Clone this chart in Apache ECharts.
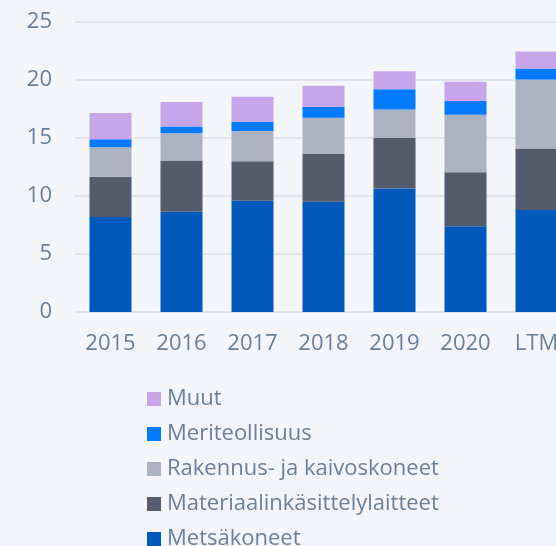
<!DOCTYPE html>
<html>
<head>
    <meta charset="utf-8">
    <title>ECharts</title>
    <script src="https://cdn.jsdelivr.net/npm/echarts@6/dist/echarts.min.js"></script>
</head>
<body style="margin:0;background:#f3f5fa;">
<style type="text/css">
.chart_box{width: 556px; height: 546px;}
</style>
    <div class="chart_box" id="liikevaihto"></div>
    <script type="text/javascript">
        // data
        var years = ['2015', '2016', '2017', '2018', '2019', '2020', 'LTM'];
        var metsakoneet = [8.2, 8.65, 9.6, 9.5, 10.65, 7.4, 8.8];
        var materiaali = [3.45, 4.4, 3.4, 4.15, 4.35, 4.65, 5.3];
        var rakennus = [2.55, 2.35, 2.6, 3.1, 2.45, 4.95, 5.95];
        var meri = [0.7, 0.6, 0.8, 0.95, 1.75, 1.2, 0.95];
        var muut = [2.25, 2.1, 2.15, 1.8, 1.55, 1.65, 1.45];
        var yTicks = [0, 5, 10, 15, 20, 25];

        var textColor = '#6a7f98';
        var fontName = 'Open Sans';

        var chart = echarts.init(document.getElementById('liikevaihto'));

        function bar(name, data, color) {
            return {
                name: name,
                type: 'bar',
                stack: 'total',
                barWidth: 42,
                data: data,
                itemStyle: { color: color },
                emphasis: { disabled: true }
            };
        }

        chart.setOption({
            backgroundColor: '#f3f5fa',
            animation: false,
            grid: { left: 75, top: 22, width: 497, height: 290, outerBoundsMode: 'none' },
            legend: {
                orient: 'vertical',
                left: 147,
                top: 388,
                height: 300,
                padding: 0,
                itemWidth: 14,
                itemHeight: 14,
                itemGap: 13,
                icon: 'rect',
                textStyle: { color: textColor, fontSize: 22, fontFamily: fontName, padding: [0, 0, 0, 1] },
                data: ['Muut', 'Meriteollisuus', 'Rakennus- ja kaivoskoneet', 'Materiaalinkäsittelylaitteet', 'Metsäkoneet']
            },
            xAxis: {
                type: 'category',
                data: years,
                axisLine: { show: false },
                axisTick: { show: false },
                axisLabel: { color: textColor, fontSize: 22, fontFamily: fontName, margin: 21 }
            },
            yAxis: {
                type: 'value',
                min: yTicks[0],
                max: yTicks[yTicks.length - 1],
                interval: 5,
                axisLabel: { color: textColor, fontSize: 22, fontFamily: fontName, margin: 23 },
                splitLine: { lineStyle: { color: '#dfe4ea', width: 2 } }
            },
            series: [
                bar('Metsäkoneet', metsakoneet, '#005abc'),
                bar('Materiaalinkäsittelylaitteet', materiaali, '#525c6c'),
                bar('Rakennus- ja kaivoskoneet', rakennus, '#adb2c3'),
                bar('Meriteollisuus', meri, '#007bff'),
                bar('Muut', muut, '#c8a4e8')
            ]
        });
    </script>
</body>
</html>
